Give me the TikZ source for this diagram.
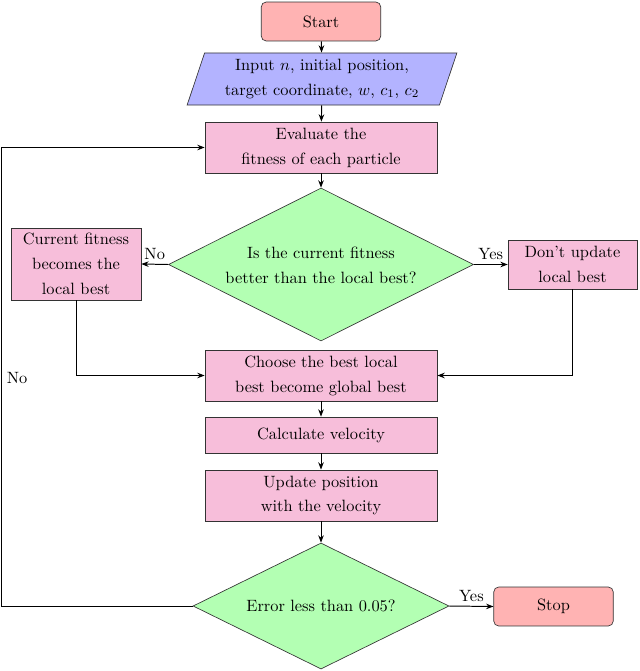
\documentclass[tikz,border=0pt]{standalone}
\usetikzlibrary{shapes.geometric,arrows.meta}
\definecolor{startc}{RGB}{255,179,179}
\definecolor{inputc}{RGB}{179,179,255}
\definecolor{procc}{RGB}{247,190,218}
\definecolor{decc}{RGB}{179,255,179}
\begin{document}
\begin{tikzpicture}[x=0.611pt,y=-0.611pt,
  every node/.style={font=\linespread{1.27}\selectfont, align=center},
  termbox/.style={draw=black!80, line width=0.4pt, fill=startc, rounded corners=3pt, minimum width=73pt, minimum height=23.8pt, inner sep=0pt},
  iobox/.style={draw=black!80, line width=0.4pt, fill=inputc, trapezium, trapezium left angle=70, trapezium right angle=110, trapezium stretches=true, minimum width=165pt, minimum height=31.8pt, inner sep=0pt},
  procbox/.style={draw=black!80, line width=0.4pt, fill=procc, minimum width=141.8pt, inner sep=0pt},
  decbox/.style={draw=black!80, line width=0.4pt, fill=decc, diamond, inner sep=0pt},
  txt/.style={inner sep=0pt},
  conn/.style={line width=0.6pt, -{Stealth[length=4.5pt,width=3.4pt]}},
  lbl/.style={inner sep=2.5pt}
]
\useasboundingbox (0,0) rectangle (640,671);
\node[termbox] (start) at (321,21.5) {Start};
\node[iobox] (input) at (322,79) {Input $n$, initial position,\\target coordinate, $w$, $c_1$, $c_2$};
\node[procbox, minimum height=31.2pt] (eval) at (321,147.5) {Evaluate the\\fitness of each particle};
\node[decbox, minimum width=186.4pt, minimum height=93.5pt] (d1) at (321,264.5) {};
\node[txt] (d1t) at (321,265) {Is the current fitness\\better than the local best?};
\node[procbox, minimum width=79.4pt, minimum height=44pt] (cur) at (76,264) {Current fitness\\becomes the\\local best};
\node[procbox, minimum width=78.8pt, minimum height=29.9pt] (dont) at (572.5,264.5) {Don't update\\local best};
\node[procbox, minimum height=31.2pt] (choose) at (321,375.5) {Choose the best local\\best become global best};
\node[procbox, minimum height=22pt] (calc) at (321,435) {Calculate velocity};
\node[procbox, minimum height=31.2pt] (upd) at (321,495.5) {Update position\\with the velocity};
\node[decbox, minimum width=156.4pt, minimum height=77pt] (d2) at (321,606) {};
\node[txt] (d2t) at (321,606) {Error less than 0.05?};
\node[termbox] (stop) at (553.5,606.5) {Stop};
\coordinate (loop) at (1,606);
\draw[conn] (start) -- (input);
\draw[conn] (input) -- (eval);
\draw[conn] (eval) -- (d1);
\draw[conn] (d1.west) -- node[lbl, above] (no1) {No} (cur.east);
\draw[conn] (d1.east) -- node[lbl, above] (yes1) {Yes} (dont.west);
\draw[conn] (cur.south) |- (choose.west);
\draw[conn] (dont.south) |- (choose.east);
\draw[conn] (choose) -- (calc);
\draw[conn] (calc) -- (upd);
\draw[conn] (upd) -- (d2);
\draw[conn] (d2.east) -- node[lbl, above] (yes2) {Yes} (stop.west);
\draw[conn] (d2.west) -- (loop) |- (eval.west);
\node[lbl] (no2) at (17,378) {No};
\end{tikzpicture}
\end{document}
